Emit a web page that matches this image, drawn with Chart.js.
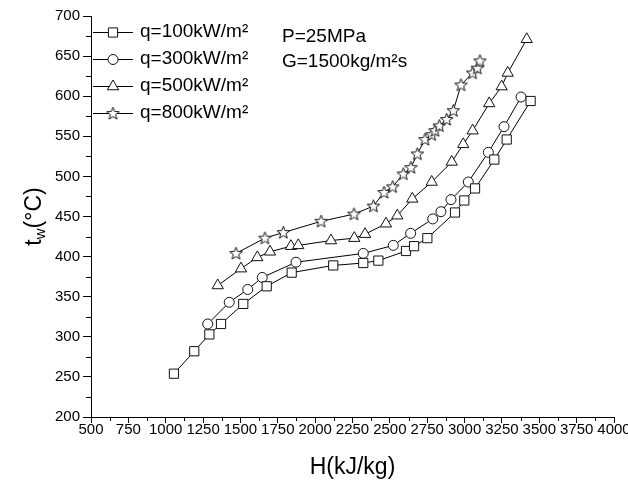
<!DOCTYPE html>
<html>
<head>
<meta charset="utf-8">
<script src="https://cdn.jsdelivr.net/npm/chart.js@4.4.0/dist/chart.umd.min.js"></script>
<style>
  html, body { margin: 0; padding: 0; background: #fff; overflow: hidden; }
  #wrap { width: 628px; height: 481px; }
</style>
</head>
<body>
<div id="wrap"><canvas id="chart" width="628" height="481"></canvas></div>
<script>
// wall temperature vs enthalpy, P=25MPa, G=1500kg/m2s

const H_Q100 = [1055, 1191, 1292, 1370, 1519, 1676, 1843, 2121, 2322, 2423, 2608, 2662, 2751, 2936, 2998, 3070, 3199, 3282, 3442];
const T_Q100 = [254, 282, 303, 316, 341, 363, 380, 389, 392, 395, 407, 413, 423, 455, 470, 485, 521, 546, 594];

const H_Q300 = [1281, 1425, 1549, 1646, 1872, 2322, 2523, 2639, 2787, 2842, 2909, 3025, 3159, 3264, 3378];
const T_Q300 = [316, 343, 359, 374, 393, 404, 414, 429, 447, 456, 471, 493, 530, 562, 599];

const H_Q500 = [1348, 1504, 1613, 1698, 1838, 1887, 2106, 2262, 2334, 2474, 2550, 2650, 2780, 2914, 2991, 3054, 3165, 3248, 3289, 3416];
const T_Q500 = [364, 385, 399, 406, 413, 414, 420, 423, 428, 441, 451, 472, 493, 518, 540, 557, 591, 612, 629, 671];

const H_Q800 = [1470, 1664, 1787, 2040, 2260, 2390, 2461, 2519, 2590, 2641, 2684, 2735, 2780, 2802, 2831, 2880, 2925, 2976, 3054, 3085, 3103];
const T_Q800 = [404, 423, 430, 444, 453, 463, 480, 487, 503, 511, 528, 546, 552, 557, 563, 571, 582, 614, 629, 635, 644];

const SERIES_LABELS = ['q=100kW/m\u00B2', 'q=300kW/m\u00B2', 'q=500kW/m\u00B2', 'q=800kW/m\u00B2'];
const NOTES = ['P=25MPa', 'G=1500kg/m\u00B2s'];
const X_TITLE = 'H(kJ/kg)';

const X_MIN = 500, X_MAX = 4000, X_STEP = 250;
const Y_MIN = 200, Y_MAX = 700, Y_STEP = 50;

const FONT = '"Liberation Sans", Arial, sans-serif';
const INK = '#000';
const MARK = '#111';

// hollow 5-point star, chart.js 'star' is an asterisk
function starImage() {
  const c = document.createElement('canvas');
  c.width = 15; c.height = 15;
  const g = c.getContext('2d');
  g.beginPath();
  for (let i = 0; i < 10; i++) {
    const r = i % 2 ? 2.8 : 6.6;
    const a = -Math.PI / 2 + i * Math.PI / 5;
    const px = 7.5 + r * Math.cos(a), py = 7.8 + r * Math.sin(a);
    i ? g.lineTo(px, py) : g.moveTo(px, py);
  }
  g.closePath();
  g.fillStyle = '#fff';
  g.fill();
  g.lineWidth = 1;
  g.strokeStyle = MARK;
  g.stroke();
  return c;
}

const STAR = starImage();

function pts(xs, ys) {
  return xs.map((x, i) => ({ x, y: ys[i] }));
}

function series(label, xs, ys, style, radius) {
  return {
    label,
    data: pts(xs, ys),
    showLine: true,
    borderColor: INK,
    borderWidth: 1,
    pointStyle: style,
    pointRadius: radius,
    pointBorderColor: MARK,
    pointBackgroundColor: '#fff',
    pointBorderWidth: 1,
  };
}

const decorPlugin = {
  id: 'decor',
  afterDraw(chart) {
    const ctx = chart.ctx;
    const xs = chart.scales.x, ys = chart.scales.y;
    const area = chart.chartArea;
    ctx.save();
    ctx.strokeStyle = INK;
    ctx.lineWidth = 1;

    // minor ticks
    ctx.beginPath();
    for (let v = X_MIN + X_STEP / 2; v < X_MAX; v += X_STEP) {
      const px = Math.round(xs.getPixelForValue(v)) + 0.5;
      ctx.moveTo(px, area.bottom);
      ctx.lineTo(px, area.bottom + 4);
    }
    for (let v = Y_MIN + Y_STEP / 2; v < Y_MAX; v += Y_STEP) {
      const py = Math.round(ys.getPixelForValue(v)) + 0.5;
      ctx.moveTo(area.left - 5, py);
      ctx.lineTo(area.left, py);
    }
    ctx.stroke();

    // legend: line - marker - line
    ctx.font = '19px ' + FONT;
    ctx.textBaseline = 'middle';
    ctx.textAlign = 'left';
    chart.data.datasets.forEach((ds, i) => {
      const y = 32 + i * 27;
      ctx.strokeStyle = INK;
      ctx.beginPath();
      ctx.moveTo(93, y + 0.5);
      ctx.lineTo(133, y + 0.5);
      ctx.stroke();
      ctx.fillStyle = '#fff';
      ctx.strokeStyle = MARK;
      Chart.helpers.drawPoint(ctx, {
        pointStyle: ds.pointStyle, radius: ds.pointRadius, borderWidth: 1, rotation: 0
      }, 113, y + 0.5);
      ctx.fillStyle = INK;
      ctx.fillText(ds.label, 140, y);
    });

    // run conditions
    ctx.fillText(NOTES[0], 282, 37);
    ctx.fillText(NOTES[1], 282, 62);

    // y title with subscript w
    ctx.translate(35, (area.top + area.bottom) / 2);
    ctx.rotate(-Math.PI / 2);
    const big = '23px ' + FONT, small = '15px ' + FONT;
    ctx.font = big;
    const wT = ctx.measureText('t').width;
    const wP = ctx.measureText('(\u00B0C)').width;
    ctx.font = small;
    const wW = ctx.measureText('w').width;
    const x0 = -(wT + wW + wP) / 2;
    ctx.font = big;
    ctx.fillText('t', x0, 0);
    ctx.font = small;
    ctx.fillText('w', x0 + wT, 6);
    ctx.font = big;
    ctx.fillText('(\u00B0C)', x0 + wT + wW, 0);
    ctx.restore();
  }
};

new Chart(document.getElementById('chart'), {
  type: 'scatter',
  data: {
    datasets: [
      series(SERIES_LABELS[0], H_Q100, T_Q100, 'rect', 6.5),
      series(SERIES_LABELS[1], H_Q300, T_Q300, 'circle', 5),
      series(SERIES_LABELS[2], H_Q500, T_Q500, 'triangle', 6.5),
      series(SERIES_LABELS[3], H_Q800, T_Q800, STAR, 6),
    ],
  },
  options: {
    responsive: false,
    animation: false,
    events: [],
    layout: { padding: { top: 16, right: 14, bottom: 0, left: 0 } },
    plugins: {
      legend: { display: false },
      tooltip: { enabled: false },
    },
    scales: {
      x: {
        type: 'linear',
        min: X_MIN, max: X_MAX,
        ticks: {
          stepSize: X_STEP, autoSkip: false, maxRotation: 0,
          color: INK, padding: -2, font: { family: FONT, size: 15 },
          callback: v => String(v),
        },
        grid: { drawOnChartArea: false, tickLength: 6, color: INK, tickColor: INK },
        border: { display: true, color: INK, width: 1 },
        title: {
          display: true, text: X_TITLE, color: INK,
          font: { family: FONT, size: 23 }, padding: { top: 0, bottom: 0 },
        },
        afterFit: s => { s.height = 64; s.paddingRight = 0; },
      },
      y: {
        type: 'linear',
        min: Y_MIN, max: Y_MAX,
        ticks: {
          stepSize: Y_STEP, color: INK, padding: 3,
          font: { family: FONT, size: 15 },
          callback: v => String(v),
        },
        grid: { drawOnChartArea: false, tickLength: 8, color: INK, tickColor: INK },
        border: { display: true, color: INK, width: 1 },
        afterFit: s => { s.width = 91; },
      },
    },
  },
  plugins: [decorPlugin],
});
</script>
</body>
</html>
